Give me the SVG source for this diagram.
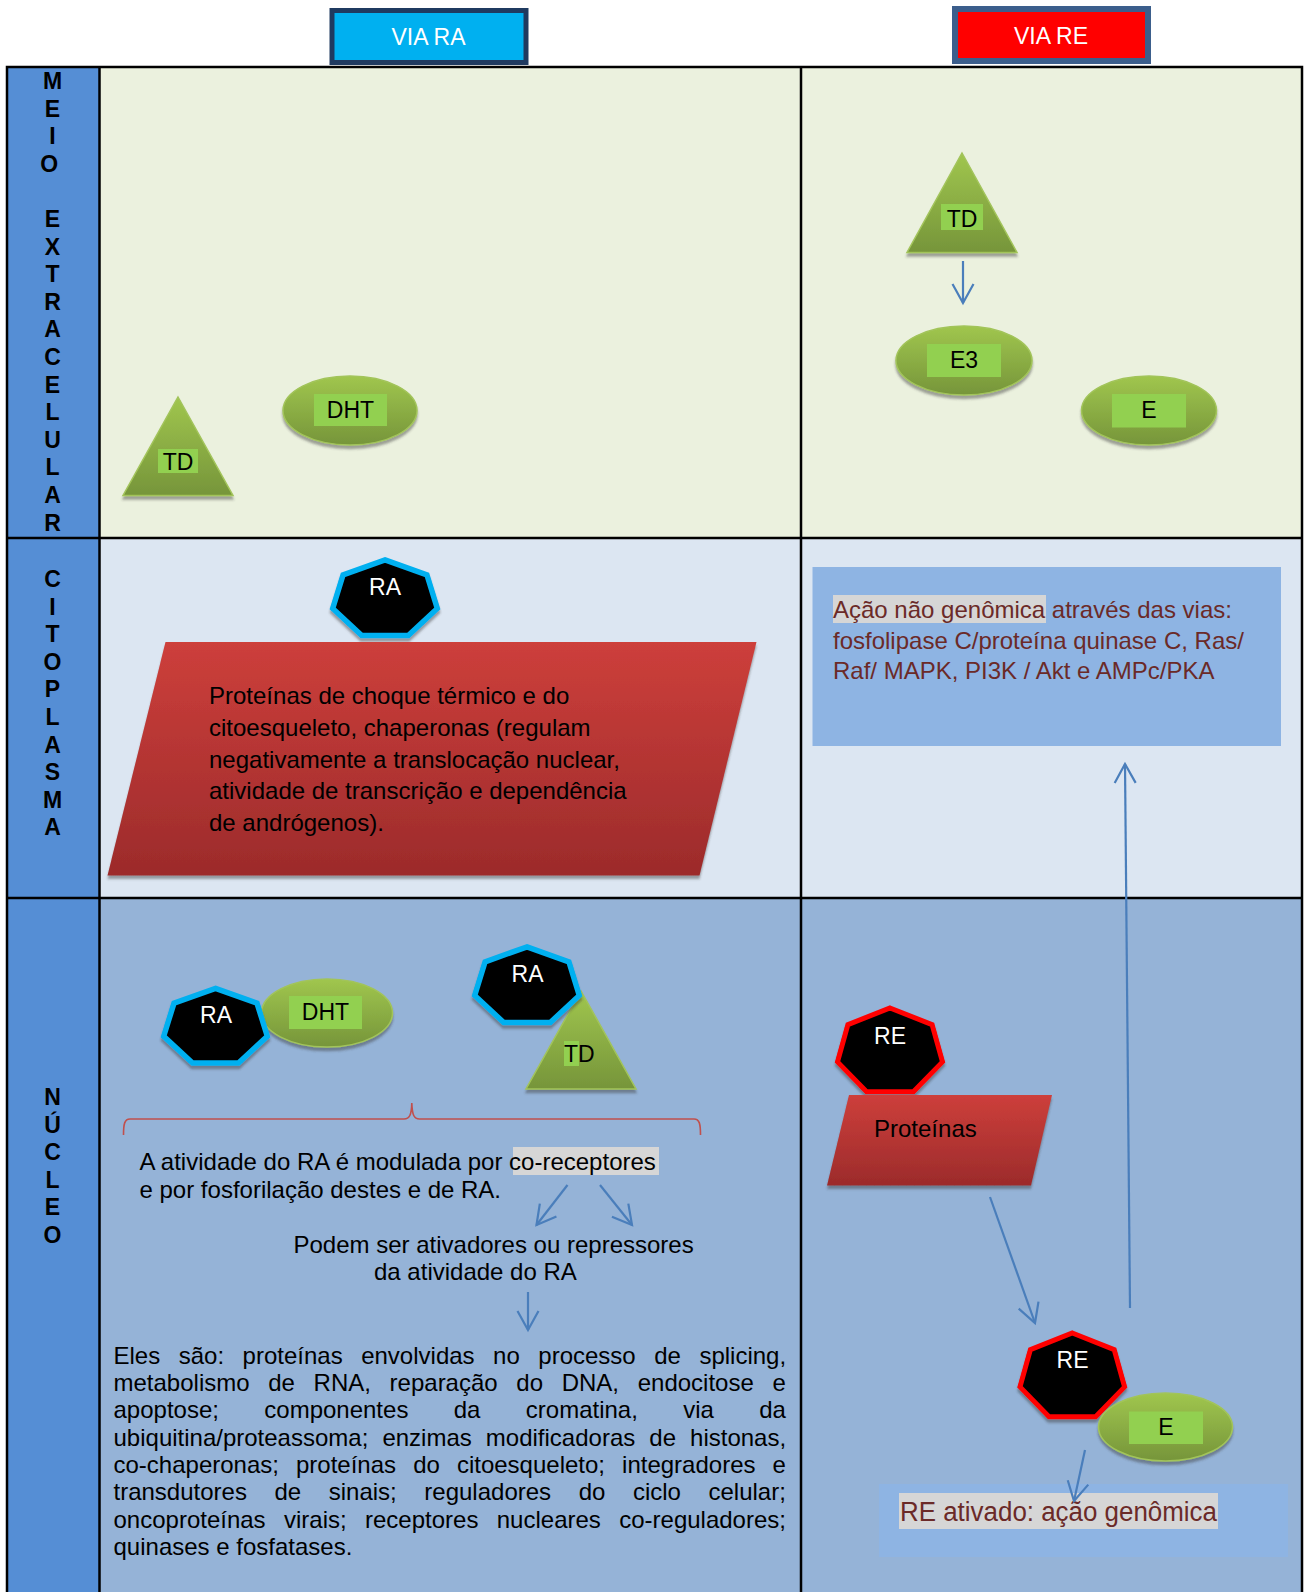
<svg xmlns="http://www.w3.org/2000/svg" width="1304" height="1592" viewBox="0 0 1304 1592">
  <style>
    text { font-family: "Liberation Sans", Arial, sans-serif; }
    .lbl { font-size: 23px; font-weight: bold; fill: #000; text-anchor: middle; }
    .tag { font-size: 23px; fill: #000; text-anchor: middle; }
    .wtag { font-size: 23px; fill: #fff; text-anchor: middle; }
    .body { font-size: 24px; fill: #000; }
    .dark { font-size: 24px; fill: #6B2A28; }
    .grid { stroke: #000; stroke-width: 2.5; fill: none; }
    .green { fill: url(#gGreen); stroke: #A2C45A; stroke-width: 1.5; filter: url(#shadow); }
    .chip { fill: #92D050; }
    .ra { fill: #000; stroke: #00B0F0; stroke-width: 5.5; stroke-linejoin: miter; filter: url(#shadow); }
    .re { fill: #000; stroke: #FF0000; stroke-width: 5; stroke-linejoin: miter; filter: url(#shadow); }
    .redbox { fill: url(#gRed); filter: url(#shadow); }
    .conn { stroke: #4A7EBB; stroke-width: 2.2; fill: none; marker-end: url(#openArrow); }
    .hl { fill: #D6D6D6; }
  </style>
  <defs>
    <linearGradient id="gGreen" x1="0" y1="0" x2="0" y2="1">
      <stop offset="0" stop-color="#A0C64E"/>
      <stop offset="1" stop-color="#76953A"/>
    </linearGradient>
    <linearGradient id="gRed" x1="0" y1="0" x2="0" y2="1">
      <stop offset="0" stop-color="#CD3F3B"/>
      <stop offset="1" stop-color="#9C2B2B"/>
    </linearGradient>
    <filter id="shadow" x="-10%" y="-10%" width="120%" height="130%">
      <feDropShadow dx="0" dy="3.5" stdDeviation="0.8" flood-color="#3A3A3A" flood-opacity="0.45"/>
    </filter>
    <marker id="openArrow" markerUnits="userSpaceOnUse" markerWidth="26" markerHeight="26" viewBox="-23 -13 26 26" refX="0" refY="0" orient="auto">
      <path d="M-19,-10.5 L0,0 L-19,10.5" fill="none" stroke="#4A7EBB" stroke-width="2.2"/>
    </marker>
  </defs>

  <!-- table: bands and rules -->
  <g id="table">
    <rect x="7" y="67" width="92" height="1525" fill="#558ED5"/>
    <rect x="99" y="67" width="1203" height="471" fill="#EBF1DE"/>
    <rect x="99" y="538" width="1203" height="360" fill="#DCE6F2"/>
    <rect x="99" y="898" width="1203" height="694" fill="#95B3D7"/>
    <path class="grid" d="M7,1592 V67 H1302 V1592 M99.5,67 V1592 M801,67 V1592 M7,538 H1302 M7,898 H1302"/>
  </g>

  <!-- vertical row titles -->
  <g id="row-titles">
    <text class="lbl">
      <tspan x="52.5" y="89">M</tspan><tspan x="52.5" y="116.6">E</tspan><tspan x="52.5" y="144.2">I</tspan><tspan x="52.5" y="171.8">O</tspan>
      <tspan x="52.5" y="227">E</tspan><tspan x="52.5" y="254.6">X</tspan><tspan x="52.5" y="282.2">T</tspan><tspan x="52.5" y="309.8">R</tspan><tspan x="52.5" y="337.4">A</tspan><tspan x="52.5" y="365">C</tspan><tspan x="52.5" y="392.6">E</tspan><tspan x="52.5" y="420.2">L</tspan><tspan x="52.5" y="447.8">U</tspan><tspan x="52.5" y="475.4">L</tspan><tspan x="52.5" y="503">A</tspan><tspan x="52.5" y="530.6">R</tspan>
    </text>
    <text class="lbl">
      <tspan x="52.5" y="587">C</tspan><tspan x="52.5" y="614.6">I</tspan><tspan x="52.5" y="642.2">T</tspan><tspan x="52.5" y="669.8">O</tspan><tspan x="52.5" y="697.4">P</tspan><tspan x="52.5" y="725">L</tspan><tspan x="52.5" y="752.6">A</tspan><tspan x="52.5" y="780.2">S</tspan><tspan x="52.5" y="807.8">M</tspan><tspan x="52.5" y="835.4">A</tspan>
    </text>
    <text class="lbl">
      <tspan x="52.5" y="1105">N</tspan><tspan x="52.5" y="1132.6">Ú</tspan><tspan x="52.5" y="1160.2">C</tspan><tspan x="52.5" y="1187.8">L</tspan><tspan x="52.5" y="1215.4">E</tspan><tspan x="52.5" y="1243">O</tspan>
    </text>
  </g>

  <!-- column headers -->
  <g id="via-ra">
    <rect x="332" y="10.5" width="194" height="52" fill="#00B0F0" stroke="#1F3A60" stroke-width="5"/>
    <text x="428.5" y="45" font-size="23" fill="#fff" text-anchor="middle">VIA RA</text>
  </g>
  <g id="via-re">
    <rect x="955" y="9" width="193" height="52" fill="#FF0000" stroke="#3B5E8C" stroke-width="6"/>
    <text x="1051" y="44" font-size="23" fill="#fff" text-anchor="middle">VIA RE</text>
  </g>

  <!-- extracellular medium -->
  <g id="td-ra-extra">
    <polygon class="green" points="178,397 233,495.5 123,495.5"/>
    <rect class="chip" x="158" y="449" width="40" height="24"/>
    <text class="tag" x="178" y="470">TD</text>
  </g>
  <g id="dht-extra">
    <ellipse class="green" cx="350" cy="410.5" rx="67" ry="34.5"/>
    <rect class="chip" x="314" y="394" width="73" height="32"/>
    <text class="tag" x="350.5" y="418">DHT</text>
  </g>
  <g id="td-re-extra">
    <polygon class="green" points="962,153 1017,252.5 907,252.5"/>
    <rect class="chip" x="941" y="204" width="42" height="26"/>
    <text class="tag" x="962" y="226.5">TD</text>
  </g>
  <g id="e3-extra">
    <ellipse class="green" cx="964" cy="360.5" rx="68" ry="34.5"/>
    <rect class="chip" x="927" y="344" width="74" height="33"/>
    <text class="tag" x="964" y="368">E3</text>
  </g>
  <g id="e-extra">
    <ellipse class="green" cx="1149" cy="410.5" rx="67.5" ry="34.5"/>
    <rect class="chip" x="1112" y="394" width="74" height="33.5"/>
    <text class="tag" x="1149" y="417.5">E</text>
  </g>

  <!-- cytoplasm -->
  <g id="ra-cyto">
    <polygon class="ra" points="385,559.8 426.9,574.8 437.3,608.5 408.3,635.5 361.7,635.5 332.7,608.5 343.1,574.8"/>
    <text class="wtag" x="385" y="595">RA</text>
  </g>
  <g id="chaperonas">
    <polygon class="redbox" points="165.5,642 756.5,642 699.5,875.5 107.5,875.5"/>
    <text class="body">
      <tspan x="209" y="704">Proteínas de choque térmico e do</tspan>
      <tspan x="209" y="735.8">citoesqueleto, chaperonas (regulam</tspan>
      <tspan x="209" y="767.5">negativamente a translocação nuclear,</tspan>
      <tspan x="209" y="799.3">atividade de transcrição e dependência</tspan>
      <tspan x="209" y="831">de andrógenos).</tspan>
    </text>
  </g>
  <g id="nao-genomica">
    <rect x="812.5" y="567" width="468.5" height="179" fill="#8EB4E3"/>
    <rect class="hl" x="833" y="595" width="213" height="28"/>
    <text class="dark">
      <tspan x="833" y="618">Ação não genômica através das vias:</tspan>
      <tspan x="833" y="648.5">fosfolipase C/proteína quinase C, Ras/</tspan>
      <tspan x="833" y="679">Raf/ MAPK, PI3K / Akt e AMPc/PKA</tspan>
    </text>
  </g>

  <!-- nucleus, AR pathway -->
  <g id="dht-nucleo">
    <ellipse class="green" cx="327" cy="1013" rx="65.5" ry="34"/>
    <rect class="chip" x="289" y="996" width="73" height="33"/>
    <text class="tag" x="325.5" y="1019.5">DHT</text>
  </g>
  <g id="ra-dht">
    <polygon class="ra" points="215.5,988.3 257,1003.1 267.3,1036.3 238.5,1063 192.5,1063 163.7,1036.3 174,1003.1"/>
    <text class="wtag" x="216" y="1023">RA</text>
  </g>
  <g id="td-nucleo">
    <polygon class="green" points="581,991 636,1089 526,1089"/>
    <rect class="chip" x="564" y="1041" width="15" height="25"/>
    <text x="564" y="1062" font-size="23" fill="#000">TD</text>
  </g>
  <g id="ra-td">
    <polygon class="ra" points="527,946.8 568.9,961.8 579.3,995.5 550.3,1022.5 503.7,1022.5 474.7,995.5 485.1,961.8"/>
    <text class="wtag" x="527.5" y="982">RA</text>
  </g>
  <g id="brace">
    <path d="M123.5,1135 C123.5,1124 124.5,1119 130,1119 L404,1119 C409.5,1119 411.5,1115 411.8,1103 C412.2,1115 414,1119 419.5,1119 L694,1119 C699.5,1119 700.5,1124 700.5,1135" fill="none" stroke="#C0504D" stroke-width="1.6"/>
  </g>
  <g id="modulacao">
    <rect class="hl" x="513" y="1147" width="146" height="28"/>
    <text class="body">
      <tspan x="139.5" y="1170">A atividade do RA é modulada por co-receptores</tspan>
      <tspan x="139.5" y="1197.5">e por fosforilação destes e de RA.</tspan>
    </text>
  </g>
  <g id="ativadores">
    <text class="body">
      <tspan x="293.5" y="1253">Podem ser ativadores ou repressores</tspan>
      <tspan x="374" y="1280">da atividade do RA</tspan>
    </text>
  </g>
  <g id="lista-coreguladores">
    <text class="body">
      <tspan x="113.5" y="1363.5" word-spacing="11.85">Eles são: proteínas envolvidas no processo de splicing,</tspan>
      <tspan x="113.5" y="1390.9" word-spacing="12">metabolismo de RNA, reparação do DNA, endocitose e</tspan>
      <tspan x="113.5" y="1418.2" word-spacing="38.7">apoptose; componentes da cromatina, via da</tspan>
      <tspan x="113.5" y="1445.6" word-spacing="7.4">ubiquitina/proteassoma; enzimas modificadoras de histonas,</tspan>
      <tspan x="113.5" y="1473" word-spacing="10.4">co-chaperonas; proteínas do citoesqueleto; integradores e</tspan>
      <tspan x="113.5" y="1500.3" word-spacing="20.9">transdutores de sinais; reguladores do ciclo celular;</tspan>
      <tspan x="113.5" y="1527.7" word-spacing="11.7">oncoproteínas virais; receptores nucleares co-reguladores;</tspan>
      <tspan x="113.5" y="1555">quinases e fosfatases.</tspan>
    </text>
  </g>

  <!-- nucleus, ER pathway -->
  <g id="re-proteinas">
    <polygon class="re" points="890,1008 932.1,1024.6 942.5,1061.9 913.4,1091.8 866.6,1091.8 837.5,1061.9 847.9,1024.6"/>
    <text class="wtag" x="890" y="1043.5" font-size="22">RE</text>
  </g>
  <g id="proteinas">
    <polygon class="redbox" points="849,1095 1052,1095 1031,1185.5 827,1185.5"/>
    <text class="body" x="874" y="1137">Proteínas</text>
  </g>
  <g id="re-e">
    <polygon class="re" points="1072.3,1333 1114.2,1349.6 1124.6,1386.9 1095.6,1416.8 1049,1416.8 1020,1386.9 1030.4,1349.6"/>
    <text class="wtag" x="1072.5" y="1368" font-size="22">RE</text>
  </g>
  <g id="e-nucleo">
    <ellipse class="green" cx="1165.5" cy="1427" rx="67" ry="34"/>
    <rect class="chip" x="1129" y="1411.5" width="74" height="32.5"/>
    <text class="tag" x="1166" y="1434.5">E</text>
  </g>
  <g id="acao-genomica">
    <rect x="879" y="1484" width="409" height="73" fill="#8EB4E3"/>
    <rect class="hl" x="899" y="1493" width="319" height="36"/>
    <text x="900" y="1521" font-family="Lato, 'Liberation Sans', sans-serif" font-size="27" fill="#6B2A28" textLength="317" lengthAdjust="spacingAndGlyphs">RE ativado: ação genômica</text>
  </g>

  <!-- connectors -->
  <g id="connectors">
    <line class="conn" x1="963" y1="261" x2="963" y2="303"/>
    <line class="conn" x1="567.5" y1="1185" x2="536.5" y2="1225"/>
    <line class="conn" x1="600" y1="1185" x2="632" y2="1225"/>
    <line class="conn" x1="528" y1="1292" x2="528" y2="1330"/>
    <line class="conn" x1="990" y1="1197" x2="1035" y2="1323"/>
    <line class="conn" x1="1085" y1="1450" x2="1074" y2="1501"/>
    <line class="conn" x1="1130" y1="1308" x2="1125" y2="764"/>
  </g>
</svg>
